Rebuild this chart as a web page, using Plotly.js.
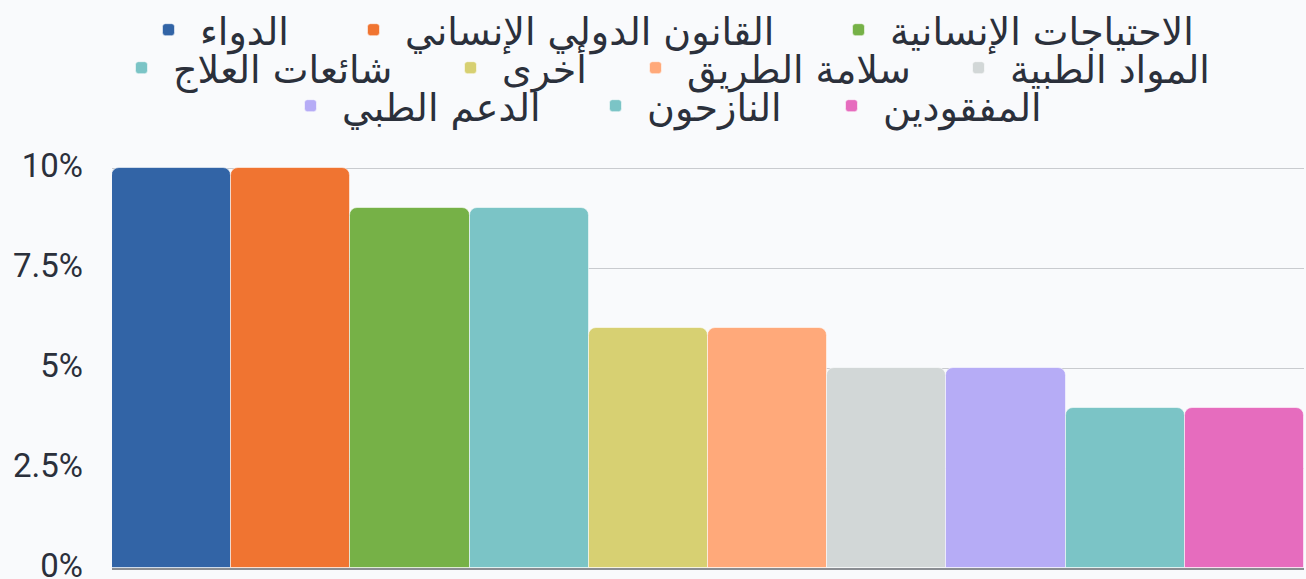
<!DOCTYPE html>
<html>
<head>
<meta charset="utf-8">
<script src="https://cdn.plot.ly/plotly-3.0.1.min.js"></script>
<style>html,body{margin:0;padding:0;background:#f9fafc;}#chart{width:1306px;height:579px;}</style>
</head>
<body>
<div id="chart"></div>
<script>
const categories = ["الدواء","القانون الدولي الإنساني","الاحتياجات الإنسانية","شائعات العلاج","أخرى","سلامة الطريق","المواد الطبية","الدعم الطبي","النازحون","المفقودين"];
const values = [10, 10, 9, 9, 6, 6, 5, 5, 4, 4];
const colors = ["#3264a6","#f07431","#76b147","#7bc4c6","#d7d072","#ffa97a","#d2d7d7","#b6acf6","#7bc4c6","#e66cbe"];
const tickVals = [0, 2.5, 5, 7.5, 10];
const tickLabels = ["0%", "2.5%", "5%", "7.5%", "10%"];

// legend placement: pixel x where each legend label starts, row centre y
const legendTextPx = [200, 405, 890, 173, 502, 687, 1010, 342, 647, 883];
const legendRowY  = [30, 30, 30, 68, 68, 68, 68, 106, 106, 106];

const W = 1306, H = 579;
const margin = {l: 112, r: 2, t: 166, b: 11};
const plotW = W - margin.l - margin.r, plotH = H - margin.t - margin.b;
const itemW = 53;               // legend symbol column width
const textOffset = itemW + 10;  // where plotly starts the label inside an item

const traces = categories.map((c, i) => ({
  type: 'bar',
  x: [c],
  y: [values[i]],
  name: c,
  legend: i === 0 ? 'legend' : 'legend' + (i + 1),
  marker: {color: colors[i], cornerradius: 8, line: {color: 'rgba(255,255,255,0.55)', width: 1}},
  hoverinfo: 'name+y'
}));

const layout = {
  width: W, height: H,
  margin: Object.assign({autoexpand: false}, margin),
  paper_bgcolor: '#f9fafc',
  plot_bgcolor: '#f9fafc',
  barmode: 'overlay',
  bargap: 0,
  font: {family: 'Roboto, "DejaVu Sans", sans-serif', color: '#2b303b', size: 25},
  xaxis: {
    type: 'category', showticklabels: false, showgrid: false, zeroline: false,
    showline: true, linecolor: '#8a8d92', linewidth: 2, ticks: ''
  },
  yaxis: {
    range: [0, 10.05], tickvals: tickVals, ticktext: tickLabels,
    showgrid: true, gridcolor: '#c9cbcf', gridwidth: 1, zeroline: false,
    showline: false, ticks: '', ticklabelstandoff: 28, ticklabeloverflow: 'allow',
    ticklabelshift: -3,
    tickfont: {family: 'Roboto, sans-serif', size: 33, color: '#2b303b'}
  },
  showlegend: true
};

categories.forEach((c, i) => {
  const key = i === 0 ? 'legend' : 'legend' + (i + 1);
  layout[key] = {
    x: (legendTextPx[i] - textOffset - margin.l) / plotW,
    xanchor: 'left',
    y: (H - margin.b - legendRowY[i]) / plotH,
    yanchor: 'middle',
    orientation: 'h',
    itemwidth: itemW,
    bgcolor: 'rgba(0,0,0,0)',
    font: {family: '"DejaVu Sans", sans-serif', size: 38, color: '#2b303b'}
  };
});

Plotly.newPlot('chart', traces, layout, {displayModeBar: false, responsive: false});
</script>
</body>
</html>
